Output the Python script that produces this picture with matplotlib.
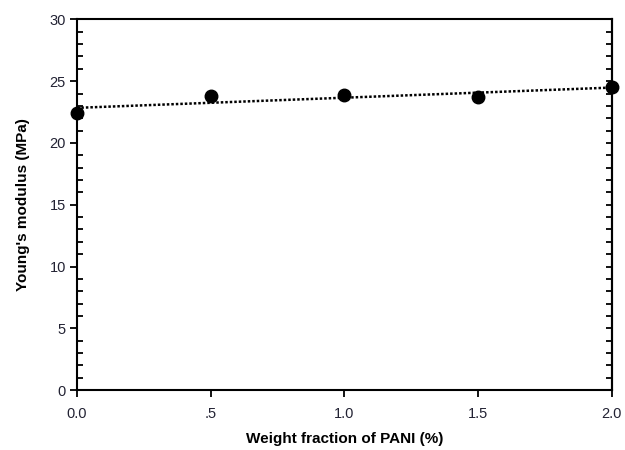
import numpy as np
import matplotlib
matplotlib.use("Agg")
import matplotlib.pyplot as plt
from matplotlib.ticker import MultipleLocator

plt.rcParams["font.family"] = ["Liberation Sans", "DejaVu Sans"]

# 데이터
pani_fraction = [0.0, 0.5, 1.0, 1.5, 2.0]
youngs_modulus = [22.4, 23.8, 23.9, 23.7, 24.5]
x_tick_labels = ["0.0", ".5", "1.0", "1.5", "2.0"]

fig = plt.figure(figsize=(6.25, 4.5), dpi=100)
ax = fig.add_axes([0.123, 0.133, 0.856, 0.824])

# 선형 회귀선
slope, intercept = np.polyfit(pani_fraction, youngs_modulus, 1)
fit_x = np.array([min(pani_fraction), max(pani_fraction)])
ax.plot(fit_x, slope * fit_x + intercept, color="black", linestyle=(0, (1, 0.8)),
        linewidth=1.8)

# 측정값
ax.plot(pani_fraction, youngs_modulus, "o", color="black", markersize=9,
        clip_on=False, zorder=5)

ax.set_xlim(0, 2)
ax.set_ylim(0, 30)
ax.set_xticks(pani_fraction)
ax.set_xticklabels(x_tick_labels)
ax.yaxis.set_major_locator(MultipleLocator(5))
ax.yaxis.set_minor_locator(MultipleLocator(1))

for side in ["left", "right", "top", "bottom"]:
    ax.spines[side].set_linewidth(1.5)

ax.tick_params(which="major", direction="out", length=5, width=1.3,
               labelsize=10.5, colors="black", labelcolor="#222233")
ax.tick_params(axis="x", which="major", pad=7)
ax.tick_params(axis="y", which="major", pad=3)
ax.tick_params(which="minor", axis="y", direction="in", length=4, width=1.3)

# 오른쪽 축 눈금 (안쪽)
right = ax.secondary_yaxis("right")
right.yaxis.set_major_locator(MultipleLocator(5))
right.yaxis.set_minor_locator(MultipleLocator(1))
right.tick_params(which="both", direction="in", length=4, width=1.3,
                  labelright=False)
right.spines["right"].set_linewidth(1.5)

ax.set_xlabel("Weight fraction of PANI (%)", fontsize=11, fontweight="bold",
              labelpad=8)
ax.set_ylabel("Young's modulus (MPa)", fontsize=11, fontweight="bold",
              labelpad=14)

fig.savefig("out.png", dpi=100)
